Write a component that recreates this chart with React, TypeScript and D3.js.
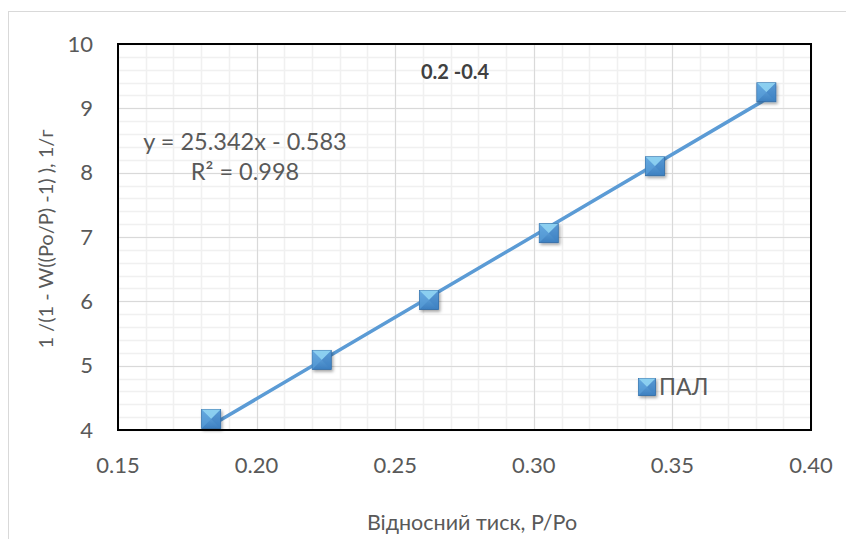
import React, { useEffect, useRef } from "react";
import * as d3 from "d3";

const pressure = [0.1836, 0.2235, 0.2622, 0.3054, 0.3437, 0.3839];
const bet = [4.17, 5.09, 6.02, 7.06, 8.1, 9.25];
const xTicks = [0.15, 0.2, 0.25, 0.3, 0.35, 0.4];
const yTicks = [4, 5, 6, 7, 8, 9, 10];
const slope = 25.342;
const intercept = -0.583;
const seriesName = "ПАЛ";
const chartTitle = "0.2 -0.4";
const eqText = "y = 25.342x - 0.583";
const r2Text = "R² = 0.998";
const xTitle = "Відносний тиск, P/Po";
const yTitle = "1 /(1 - W((Po/P) -1) ), 1/г";

const W = 846, H = 539;
const L = 118, R = 811, T = 44, B = 430;
const FONT = "Lato, 'Open Sans', sans-serif";

export default function App() {
  const ref = useRef<SVGSVGElement>(null);
  useEffect(() => {
    const svg = d3.select(ref.current);
    svg.selectAll("*").remove();
    const x = d3.scaleLinear().domain([0.15, 0.4]).range([L, R]);
    const y = d3.scaleLinear().domain([4, 10]).range([B, T]);

    const defs = svg.append("defs");
    const g1 = defs.append("linearGradient").attr("id", "mk").attr("x1", 0).attr("y1", 0).attr("x2", 0).attr("y2", 1);
    g1.append("stop").attr("offset", "0%").attr("stop-color", "#6fb0e4");
    g1.append("stop").attr("offset", "100%").attr("stop-color", "#3c7fc0");
    const f = defs.append("filter").attr("id", "sh").attr("x", "-50%").attr("y", "-50%").attr("width", "200%").attr("height", "200%");
    f.append("feDropShadow").attr("dx", 1.5).attr("dy", 2).attr("stdDeviation", 1.5).attr("flood-color", "#000").attr("flood-opacity", 0.35);

    svg.append("rect").attr("x", 0).attr("y", 0).attr("width", W).attr("height", H).attr("fill", "#fff");
    svg.append("rect").attr("x", 8.5).attr("y", 11.5).attr("width", W + 20).attr("height", H + 20)
      .attr("fill", "none").attr("stroke", "#d9d9d9");

    // minor grid
    const gx = d3.range(0.15, 0.4001, 0.01);
    const gy = d3.range(4, 10.001, 0.2);
    svg.append("g").selectAll("line").data(gx).join("line")
      .attr("x1", d => Math.round(x(d)) + 0.5).attr("x2", d => Math.round(x(d)) + 0.5)
      .attr("y1", T).attr("y2", B).attr("stroke", "#f0f0f0").attr("stroke-width", 1.5);
    svg.append("g").selectAll("line").data(gy).join("line")
      .attr("y1", d => Math.round(y(d)) + 0.5).attr("y2", d => Math.round(y(d)) + 0.5)
      .attr("x1", L).attr("x2", R).attr("stroke", "#f0f0f0").attr("stroke-width", 1.5);
    // major grid
    svg.append("g").selectAll("line").data(xTicks).join("line")
      .attr("x1", d => Math.round(x(d)) + 0.5).attr("x2", d => Math.round(x(d)) + 0.5)
      .attr("y1", T).attr("y2", B).attr("stroke", "#d9d9d9").attr("stroke-width", 1);
    svg.append("g").selectAll("line").data(yTicks).join("line")
      .attr("y1", d => Math.round(y(d)) + 0.5).attr("y2", d => Math.round(y(d)) + 0.5)
      .attr("x1", L).attr("x2", R).attr("stroke", "#d9d9d9").attr("stroke-width", 1);

    svg.append("rect").attr("x", L).attr("y", T).attr("width", R - L).attr("height", B - T)
      .attr("fill", "none").attr("stroke", "#000").attr("stroke-width", 2);

    // tick labels
    svg.append("g").selectAll("text").data(yTicks).join("text")
      .attr("x", 93).attr("y", d => y(d)).attr("dy", "0.35em").attr("text-anchor", "end")
      .attr("font-family", FONT).attr("font-size", 22).attr("fill", "#595959").text(d => String(d));
    svg.append("g").selectAll("text").data(xTicks).join("text")
      .attr("x", d => x(d)).attr("y", 465).attr("dy", "0.35em").attr("text-anchor", "middle")
      .attr("font-family", FONT).attr("font-size", 22).attr("fill", "#595959").text(d => d.toFixed(2));

    // axis titles
    svg.append("text").attr("transform", `translate(46,239) rotate(-90)`).attr("text-anchor", "middle")
      .attr("dy", "0.35em").attr("font-family", FONT).attr("font-size", 20).attr("fill", "#595959").text(yTitle);
    svg.append("text").attr("x", 472).attr("y", 522).attr("text-anchor", "middle").attr("dy", "0.35em")
      .attr("font-family", FONT).attr("font-size", 21.5).attr("fill", "#595959").text(xTitle);

    // title
    svg.append("text").attr("x", 455).attr("y", 72).attr("text-anchor", "middle").attr("dy", "0.35em")
      .attr("font-family", FONT).attr("font-size", 20).attr("font-weight", "bold").attr("fill", "#404040").text(chartTitle);

    // trendline
    const x0 = d3.min(pressure)!, x1 = d3.max(pressure)!;
    svg.append("line").attr("x1", x(x0)).attr("y1", y(slope * x0 + intercept))
      .attr("x2", x(x1)).attr("y2", y(slope * x1 + intercept))
      .attr("stroke", "#5b9bd5").attr("stroke-width", 3.5).attr("stroke-linecap", "round");

    // equation
    svg.append("text").attr("x", 245).attr("y", 142).attr("text-anchor", "middle").attr("dy", "0.35em")
      .attr("font-family", FONT).attr("font-size", 23.5).attr("fill", "#595959").text(eqText);
    svg.append("text").attr("x", 245).attr("y", 172).attr("text-anchor", "middle").attr("dy", "0.35em")
      .attr("font-family", FONT).attr("font-size", 23.5).attr("fill", "#595959").text(r2Text);

    const marker = (gSel: any, s: number) => {
      const h = s / 2;
      gSel.append("rect").attr("x", -h).attr("y", -h).attr("width", s).attr("height", s)
        .attr("fill", "url(#mk)").attr("stroke", "#2e6aa3").attr("stroke-width", 0.8).attr("filter", "url(#sh)");
      gSel.append("path").attr("d", `M${-h},${-h}L${h},${-h}L0,0Z`).attr("fill", "#8fd3f2").attr("opacity", 0.9);
      gSel.append("path").attr("d", `M${-h},${-h}L0,0L${-h},${h}Z`).attr("fill", "#5ea3dc").attr("opacity", 0.6);
      gSel.append("path").attr("d", `M${h},${-h}L0,0L${h},${h}Z`).attr("fill", "#3f82c4").attr("opacity", 0.5);
    };

    const pts = svg.append("g").selectAll("g").data(pressure.map((p, i) => [p, bet[i]])).join("g")
      .attr("transform", d => `translate(${x(d[0])},${y(d[1])})`);
    pts.each(function () { marker(d3.select(this), 19); });

    // legend
    const lg = svg.append("g").attr("transform", "translate(647,387)");
    marker(lg, 17);
    svg.append("text").attr("x", 659).attr("y", 387).attr("dy", "0.35em")
      .attr("font-family", FONT).attr("font-size", 23).attr("fill", "#595959").text(seriesName);
  }, []);
  return (
    <svg ref={ref} width={W} height={H} style={{ position: "absolute", left: 0, top: 0 }} />
  );
}
